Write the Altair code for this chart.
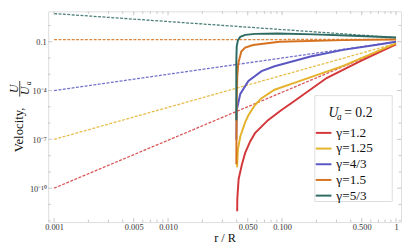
import altair as alt
import pandas as pd

FONT = "Liberation Serif"

labels = ["γ=1.2", "γ=1.25", "γ=4/3", "γ=1.5", "γ=5/3"]
colors = ["#d4373a", "#e4b22b", "#5b57c2", "#d6721f", "#2d6a62"]

# asymptotic (dashed) power laws: value at r=0.001 and at r=1
dash_r = [0.001, 1.0]
dash_u = [
    [1e-10, 0.069],
    [1e-7, 0.079],
    [1e-4, 0.1],
    [0.135, 0.138],
    [5.4, 0.18],
]

# full solutions (solid)
sol_r = [
    [0.0404, 0.0405, 0.0416, 0.0445, 0.0475, 0.0525, 0.0579, 0.0753, 0.0982, 0.123, 0.246, 0.481, 1.0],
    [0.0403, 0.041, 0.043, 0.0475, 0.0507, 0.0579, 0.0661, 0.086, 0.128, 0.344, 1.0],
    [0.0397, 0.040, 0.043, 0.0507, 0.0661, 0.086, 0.178, 0.344, 0.661, 1.0],
    [0.0397, 0.040, 0.0405, 0.0413, 0.0439, 0.0475, 0.0556, 0.095, 0.344, 1.0],
    [0.0397, 0.0397, 0.0400, 0.0410, 0.043, 0.0475, 0.0579, 0.0912, 0.19, 0.419, 1.0],
]
sol_u = [
    [3.8e-12, 2.3e-11, 3.7e-10, 2.95e-9, 1.5e-8, 7.5e-8, 2.4e-7, 1.52e-6, 6.1e-6, 1.84e-5, 5.9e-4, 6.2e-3, 0.0687],
    [1.95e-9, 2.4e-8, 1.5e-7, 1.15e-6, 3.0e-6, 1.3e-5, 3.4e-5, 1.12e-4, 2.95e-4, 3.3e-3, 0.079],
    [9.5e-8, 6.1e-6, 6.2e-5, 3.9e-4, 1.56e-3, 3.12e-3, 0.0125, 0.0316, 0.0633, 0.1],
    [2.95e-9, 2.43e-5, 7.8e-4, 4.7e-3, 0.025, 0.0435, 0.0633, 0.1, 0.126, 0.138],
    [1.52e-6, 6.2e-3, 0.05, 0.123, 0.2, 0.264, 0.304, 0.325, 0.283, 0.23, 0.18],
]

x_major = [0.001, 0.005, 0.01, 0.05, 0.1, 0.5, 1]
x_minor = [0.002, 0.003, 0.004, 0.006, 0.007, 0.008, 0.009,
           0.02, 0.03, 0.04, 0.06, 0.07, 0.08, 0.09,
           0.2, 0.3, 0.4, 0.6, 0.7, 0.8, 0.9]
y_major = [0.1, 1e-4, 1e-7, 1e-10]
y_minor = [1, 1e-2, 1e-3, 1e-5, 1e-6, 1e-8, 1e-9, 1e-11, 1e-12]

W, H = 360, 215
GRAY = "#c6c6c6"

xs = alt.Scale(type="log", domain=[8.88e-4, 1.106], nice=False)
ys = alt.Scale(type="log", domain=[10 ** -12.084, 10 ** 0.8675], nice=False)
cs = alt.Scale(domain=labels, range=colors)

xaxis = alt.Axis(values=x_major, ticks=False, domain=False, grid=False,
                 labelExpr="datum.value >= 1 ? '1' : format(datum.value, '.3f')",
                 labelFont=FONT, labelFontSize=8.5, labelColor="#333333", labelPadding=1,
                 labelFlush=False, labelOverlap=False,
                 title="r / R", titleFont=FONT, titleFontSize=12.5, titleFontWeight="normal",
                 titleColor="#111111", titlePadding=0)
yaxis = alt.Axis(values=y_major, ticks=False, domain=False, grid=False,
                 labelExpr="datum.value > 0.01 ? '0.1' : datum.value > 1e-5 ? '10⁻⁴' : datum.value > 1e-8 ? '10⁻⁷' : '10⁻¹⁰'",
                 labelFont=FONT, labelFontSize=8.5, labelColor="#333333", labelPadding=2,
                 labelFlush=False, labelOverlap=False, title=None)

layers = []

# dashed asymptotes
for i, lab in enumerate(labels):
    df = pd.DataFrame({"r": dash_r, "U": dash_u[i], "i": range(2)})
    layers.append(
        alt.Chart(df).mark_line(strokeWidth=1.3, strokeDash=[3, 1.5], opacity=0.85, clip=True)
        .encode(x=alt.X("r:Q", scale=xs, axis=xaxis), y=alt.Y("U:Q", scale=ys, axis=yaxis),
                color=alt.value(colors[i]), order="i:Q")
    )

# solid solutions
for i, lab in enumerate(labels):
    df = pd.DataFrame({"r": sol_r[i], "U": sol_u[i], "s": lab, "i": range(len(sol_r[i]))})
    layers.append(
        alt.Chart(df).mark_line(strokeWidth=2, clip=True)
        .encode(x=alt.X("r:Q", scale=xs, axis=xaxis), y=alt.Y("U:Q", scale=ys, axis=yaxis),
                color=alt.Color("s:N", scale=cs, legend=alt.Legend(
                    orient="none", legendX=272, legendY=115, title=None, padding=0,
                    symbolType="stroke", symbolSize=256, symbolStrokeWidth=2,
                    labelFont=FONT, labelFontSize=13.5, labelColor="#111111",
                    labelOffset=4, rowPadding=-1)),
                order="i:Q")
    )

# inward frame ticks
xt = pd.DataFrame({"v": x_major + x_minor, "L": [4] * len(x_major) + [2.5] * len(x_minor)})
yt = pd.DataFrame({"v": y_major + y_minor, "L": [4] * len(y_major) + [2.5] * len(y_minor)})
for big, dfv in [(True, xt[xt.L == 4]), (False, xt[xt.L < 4])]:
    L = 4 if big else 2.5
    layers.append(alt.Chart(dfv).mark_rule(color=GRAY, strokeWidth=1).encode(
        x=alt.X("v:Q", scale=xs, axis=xaxis), y=alt.value(H), y2=alt.value(H - L)))
    layers.append(alt.Chart(dfv).mark_rule(color=GRAY, strokeWidth=1).encode(
        x=alt.X("v:Q", scale=xs, axis=xaxis), y=alt.value(0), y2=alt.value(L)))
for big, dfv in [(True, yt[yt.L == 4]), (False, yt[yt.L < 4])]:
    L = 4 if big else 2.5
    layers.append(alt.Chart(dfv).mark_rule(color=GRAY, strokeWidth=1).encode(
        y=alt.Y("v:Q", scale=ys, axis=yaxis), x=alt.value(0), x2=alt.value(L)))
    layers.append(alt.Chart(dfv).mark_rule(color=GRAY, strokeWidth=1).encode(
        y=alt.Y("v:Q", scale=ys, axis=yaxis), x=alt.value(W), x2=alt.value(W - L)))

one = pd.DataFrame({"k": [0]})

# legend box (drawn under legend; legend is always on top)
box = alt.Chart(one).mark_rect(fill="white", stroke="#dddddd", strokeWidth=1).encode(
    x=alt.value(272), x2=alt.value(351), y=alt.value(86), y2=alt.value(194))

leg_title = [
    alt.Chart(pd.DataFrame({"t": ["U"]})).mark_text(font=FONT, fontSize=14, fontStyle="italic",
        align="center", baseline="alphabetic", color="#111111").encode(
        x=alt.value(291), y=alt.value(108), text="t:N"),
    alt.Chart(pd.DataFrame({"t": ["a"]})).mark_text(font=FONT, fontSize=9.5, fontStyle="italic",
        align="center", baseline="alphabetic", color="#111111").encode(
        x=alt.value(297), y=alt.value(110.5), text="t:N"),
    alt.Chart(pd.DataFrame({"t": ["= 0.2"]})).mark_text(font=FONT, fontSize=14,
        align="left", baseline="alphabetic", color="#111111").encode(
        x=alt.value(302), y=alt.value(108), text="t:N"),
]

ytitle = [
    alt.Chart(pd.DataFrame({"t": ["Velocity,"]})).mark_text(font=FONT, fontSize=13, angle=270,
        align="center", baseline="alphabetic", color="#111111").encode(
        x=alt.value(-26), y=alt.value(121), text="t:N"),
    alt.Chart(pd.DataFrame({"t": ["U"]})).mark_text(font=FONT, fontSize=12, angle=270, fontStyle="italic",
        align="center", baseline="alphabetic", color="#111111").encode(
        x=alt.value(-30.5), y=alt.value(79), text="t:N"),
    alt.Chart(one).mark_rule(color="#111111", strokeWidth=0.8).encode(
        x=alt.value(-29), y=alt.value(71), y2=alt.value(87)),
    alt.Chart(pd.DataFrame({"t": ["U"]})).mark_text(font=FONT, fontSize=12, angle=270, fontStyle="italic",
        align="center", baseline="alphabetic", color="#111111").encode(
        x=alt.value(-19.5), y=alt.value(81), text="t:N"),
    alt.Chart(pd.DataFrame({"t": ["a"]})).mark_text(font=FONT, fontSize=8, angle=270, fontStyle="italic",
        align="center", baseline="alphabetic", color="#111111").encode(
        x=alt.value(-17.5), y=alt.value(73.5), text="t:N"),
]

chart = alt.layer(box, *layers, *leg_title, *ytitle).properties(
    width=W, height=H,
    autosize=alt.AutoSizeParams(type="none"),
    padding={"left": 41, "top": 1, "right": 2, "bottom": 23},
).configure_view(stroke=GRAY, strokeWidth=1).configure(background="white")

chart.save("out.html", embed_options={"renderer": "svg", "actions": False})
